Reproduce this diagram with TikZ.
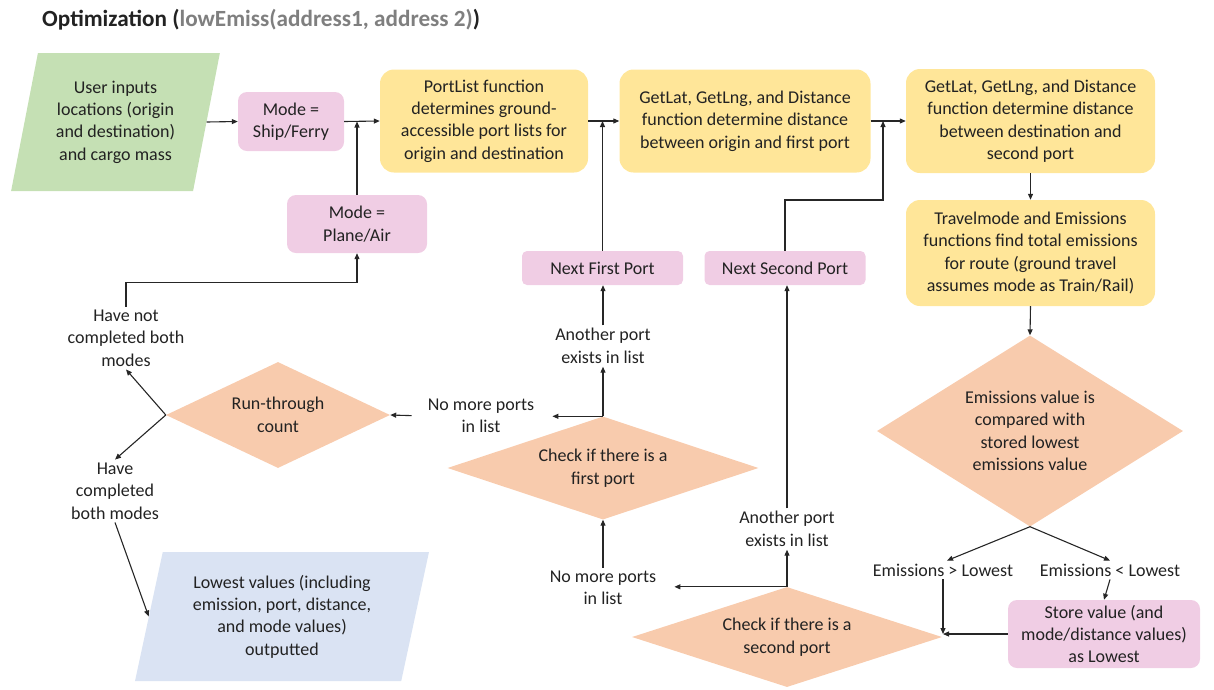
\documentclass[tikz,border=0pt]{standalone}
\usepackage{fontspec}
\setmainfont{Carlito}
\usetikzlibrary{shapes.geometric,arrows.meta,calc}
\definecolor{boxyellow}{HTML}{FFE699}
\definecolor{boxpink}{HTML}{F0CDE4}
\definecolor{boxorange}{HTML}{F8CBAD}
\definecolor{boxgreen}{HTML}{C5E0B4}
\definecolor{boxblue}{HTML}{DAE3F3}
\definecolor{txt}{HTML}{222222}
\definecolor{linecol}{HTML}{262626}
\definecolor{titlegray}{HTML}{7F7F7F}
\begin{document}
\begin{tikzpicture}[x=1pt,y=-1pt,
  every node/.style={font=\fontsize{18}{22.4}\selectfont, text=txt},
  proc/.style={rectangle, rounded corners=14pt, fill=boxyellow, align=center, inner sep=2pt},
  modebox/.style={rectangle, rounded corners=9pt, fill=boxpink, align=center, inner sep=2pt},
  decide/.style={diamond, fill=boxorange, align=center, inner sep=0pt, aspect=3},
  iobox/.style={trapezium, trapezium left angle=76, trapezium right angle=104,
    trapezium stretches=true, align=center, inner sep=0pt},
  lbl/.style={align=center, inner sep=3pt},
  arr/.style={draw=linecol, line width=1.1pt, -{Triangle[length=6pt,width=5pt]}}
]
\useasboundingbox (0,0) rectangle (1214,689);

% title
\node[anchor=west, inner sep=0pt, font=\bfseries\fontsize{23.2}{27}\selectfont] (title) at (42,20)
  {Optimization (\textcolor{titlegray}{lowEmiss(address1, address 2)})};

% top row
\node[iobox, fill=boxgreen, minimum width=209, minimum height=138] (in) at (115.5,122)
  {User inputs\\locations (origin\\and destination)\\and cargo mass};
\node[modebox, minimum width=106, minimum height=59] (ship) at (291,121.5) {Mode =\\Ship/Ferry};
\node[proc, minimum width=208, minimum height=103] (portlist) at (484,121)
  {PortList function\\determines ground-\\accessible port lists for\\origin and destination};
\node[proc, minimum width=251, minimum height=103] (getlat1) at (745,121)
  {GetLat, GetLng, and Distance\\function determine distance\\between origin and first port};
\node[proc, minimum width=249, minimum height=104] (getlat2) at (1030.5,121)
  {GetLat, GetLng, and Distance\\function determine distance\\between destination and\\second port};
\node[proc, minimum width=249, minimum height=106] (travel) at (1030.5,253)
  {Travelmode and Emissions\\functions find total emissions\\for route (ground travel\\assumes mode as Train/Rail)};

% second row
\node[modebox, minimum width=140, minimum height=58] (plane) at (357,224) {Mode =\\Plane/Air};
\node[modebox, rounded corners=5pt, minimum width=161, minimum height=34] (nextfirst) at (602.5,268) {Next First Port};
\node[modebox, rounded corners=5pt, minimum width=161, minimum height=34] (nextsecond) at (785,268) {Next Second Port};

% decisions
\node[decide, aspect=1.6, minimum width=306, minimum height=191] (emis) at (1030,431)
  {Emissions value is\\compared with\\stored lowest\\emissions value};
\node[decide, minimum width=311, minimum height=103] (d1) at (603,468) {Check if there is a\\first port};
\node[decide, minimum width=310, minimum height=100] (d2) at (787,637) {Check if there is a\\second port};
\node[decide, aspect=2, minimum width=224, minimum height=106] (rt) at (278,415) {Run-through\\count};

% outcome box and output
\node[modebox, minimum width=192, minimum height=68] (store) at (1104,634)
  {Store value (and\\mode/distance values)\\as Lowest};
\node[iobox, fill=boxblue, minimum width=295, minimum height=129] (out) at (282,616.5)
  {Lowest values (including\\emission, port, distance,\\and mode values)\\outputted};

% branch labels
\node[lbl] (gt) at (943,570) {Emissions > Lowest};
\node[lbl] (lt) at (1110,570) {Emissions < Lowest};
\node[lbl] (ap1) at (603,346) {Another port\\exists in list};
\node[lbl] (ap2) at (787,529) {Another port\\exists in list};
\node[lbl] (nm1) at (481,416) {No more ports\\in list};
\node[lbl] (nm2) at (603,588) {No more ports\\in list};
\node[lbl] (hn) at (126,338) {Have not\\completed both\\modes};
\node[lbl] (hc) at (115,491) {Have\\completed\\both modes};

% connectors
\coordinate (j2) at (883,200);
\draw[arr] (in.east) -- (ship.west);
\draw[arr] (ship.east) -- (portlist.west);
\draw[arr] (plane.north) -- (plane.north |- ship.east);
\draw[arr] (portlist.east) -- (getlat1.west);
\draw[arr] (nextfirst.north) -- (nextfirst.north |- portlist.east);
\draw[arr] (getlat1.east) -- (getlat2.west);
\draw[arr] (nextsecond.north) |- (j2) -- (j2 |- getlat1.east);
\draw[arr] (getlat2.south) -- (travel.north);
\draw[arr] (travel.south) -- (emis.north);
\draw[arr] (emis.south) -- ([xshift=4pt]gt.north);
\draw[arr] (emis.south) -- (lt.north);
\coordinate (m) at (gt.south |- store.west);
\draw[arr] (gt.south) -- (m);
\draw[arr] (store.west) -- (m);
\draw[arr] (lt.south) -- (store.north);
\draw[arr] (d2.north) -- (ap2.south);
\draw[arr, shorten >=15pt] (d2.north) -- (d2.north -| nm2.east);
\draw[arr] (ap2.north) -- (ap2.north |- nextsecond.south);
\draw[arr] (nm2.north) -- (d1.south);
\draw[arr] (d1.north) -- (ap1.south);
\draw[arr, shorten >=15pt] (d1.north) -- (d1.north -| nm1.east);
\draw[arr] (ap1.north) -- (ap1.north |- nextfirst.south);
\draw[arr, shorten <=13pt] (nm1.west) -- (rt.east);
\draw[arr] (rt.west) -- (hn.south);
\draw[arr] (rt.west) -- (hc.north);
\draw[arr] (hc.south) -- (out.west);
\draw[arr] (hn.north) -- ++(0,-24) -| (plane.south);
\end{tikzpicture}
\end{document}
